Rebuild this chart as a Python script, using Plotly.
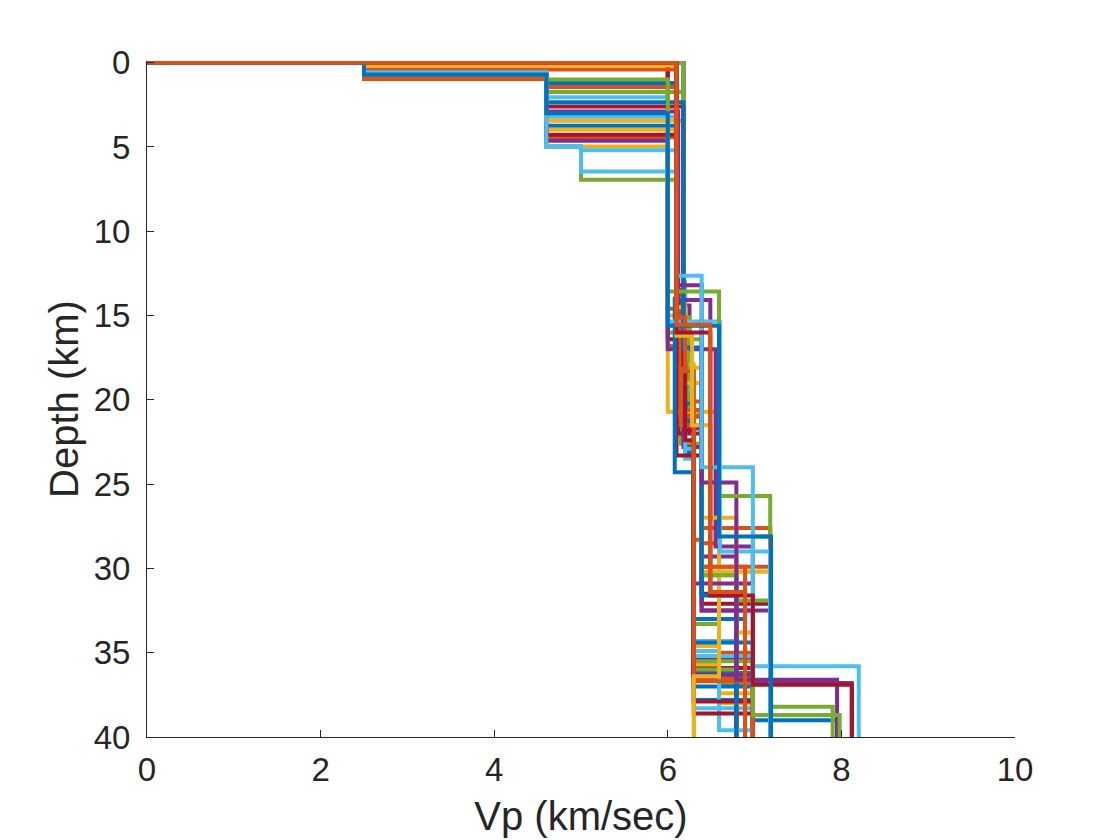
"""Perfiles Vp vs profundidad (escalones por capa), estilo MATLAB."""
import plotly.graph_objects as go

# Colores por defecto de MATLAB (se ciclan por perfil)
COLORS = ["#0072BD", "#D95319", "#EDB120", "#7E2F8E",
          "#77AC30", "#4DBEEE", "#A2142F"]

# Velocidad de cada capa (km/s), una lista por "ranura" de capa; 44 perfiles.
VP1 = [6.10, 6.10, 6.00, 6.18, 6.10, 6.00, 6.18, 6.10, 6.00, 6.10, 6.18,
       6.00, 6.18, 6.10, 2.50, 6.00, 2.50, 6.10, 6.18, 2.50, 6.00, 6.10,
       2.50, 2.50, 2.50, 2.50, 2.50, 2.50, 2.50, 2.50, 2.50, 2.50, 2.50,
       2.50, 2.50, 2.50, 2.50, 2.50, 6.10, 2.50, 2.50, 6.10, 2.50, 6.10]
VP2 = [6.15, 6.20, 6.12, 6.22, 6.15, 6.18, 6.12, 6.20, 6.15, 6.18, 6.25,
       6.15, 6.20, 6.18, 4.60, 6.12, 4.60, 6.18, 6.25, 4.60, 6.10, 6.18,
       4.60, 4.60, 4.60, 4.60, 4.60, 4.60, 4.60, 4.60, 4.60, 4.60, 4.60,
       4.60, 4.60, 4.60, 6.10, 6.10, 6.39, 4.60, 4.60, 6.49, 4.60, 6.49]
VP3 = [6.30, 6.39, 6.30, 6.30, 6.39, 6.30, 6.39, 6.30, 6.39, 6.39, 6.39,
       6.30, 6.30, 6.30, 6.10, 6.39, 6.00, 6.39, 6.30, 5.00, 6.39, 6.30,
       6.10, 6.10, 6.00, 5.00, 6.10, 6.10, 6.10, 6.10, 6.18, 6.12, 6.18,
       6.00, 6.18, 6.18, 6.20, 6.28, 6.79, 6.00, 5.00, 6.98, 6.00, 6.89]
VP4 = [6.98, 7.18, 6.59, 6.98, 6.79, 6.79, 7.18, 6.98, 6.59, 7.18, 6.79,
       6.59, 6.98, 6.98, 6.15, 7.18, 6.59, 7.18, 6.79, 6.10, 6.79, 6.89,
       6.18, 6.20, 6.55, 6.10, 6.20, 6.20, 6.08, 6.15, 6.20, 6.49, 6.39,
       6.60, 6.20, 6.39, 6.30, 6.49, 7.95, 6.59, 6.10, 8.12, 6.59, 6.89]
VP5 = [6.98, 7.18, 6.98, 6.98, 6.79, 6.79, 7.18, 6.98, 6.98, 7.18, 6.79,
       6.98, 6.98, 6.98, 6.30, 7.18, 6.30, 7.18, 6.79, 6.20, 6.79, 6.89,
       6.39, 6.30, 6.98, 6.22, 6.30, 6.30, 6.29, 6.39, 6.39, 6.39, 6.79,
       7.18, 6.30, 6.79, 6.98, 6.59, 7.95, 7.18, 6.39, 8.12, 7.19, 6.89]
VP6 = [6.98, 7.18, 6.98, 6.98, 6.79, 6.79, 7.18, 6.98, 6.98, 7.18, 6.79,
       6.98, 6.98, 6.98, 6.98, 7.18, 6.30, 7.18, 6.79, 6.30, 6.79, 6.89,
       6.30, 6.59, 6.29, 6.30, 6.59, 6.98, 6.98, 6.89, 6.79, 6.98, 7.19,
       7.18, 6.98, 6.79, 6.98, 6.30, 7.95, 6.98, 6.98, 8.12, 7.19, 6.89]
VP7 = [6.98, 7.18, 6.98, 6.98, 6.79, 6.79, 7.18, 6.98, 6.98, 7.18, 6.79,
       6.98, 6.98, 6.98, 6.98, 7.18, 6.30, 7.18, 6.79, 6.98, 6.79, 6.89,
       6.98, 6.98, 6.98, 6.98, 6.98, 6.98, 7.95, 6.89, 6.98, 8.12, 7.90,
       7.18, 6.98, 6.79, 6.98, 6.30, 7.95, 7.98, 8.20, 8.12, 7.19, 6.89]

# Profundidad de la base de cada capa (km); 45 = sin más cambios en el gráfico
Z1 = [14.2, 13.8, 15.0, 16.2, 14.8, 15.4, 13.5, 16.5, 14.6, 15.8, 14.4,
      16.0, 13.0, 15.2, 0.70, 16.8, 0.70, 14.1, 15.1, 0.57, 16.4, 15.9,
      0.70, 0.70, 0.70, 0.57, 0.57, 0.70, 0.70, 0.97, 0.70, 0.70, 0.70,
      0.57, 0.70, 0.70, 0.40, 0.16, 13.2, 0.70, 0.57, 16.0, 0.70, 15.55]
Z2 = [19.6, 20.1, 18.7, 21.3, 22.6, 19.2, 22.0, 23.1, 20.9, 18.1, 21.7,
      19.9, 23.5, 18.9, 3.74, 21.0, 4.97, 22.8, 20.4, 4.97, 23.3, 20.2,
      4.43, 3.98, 4.63, 4.97, 3.20, 4.27, 1.20, 1.44, 3.45, 2.90, 1.74,
      2.05, 2.60, 2.35, 15.1, 16.2, 24.9, 1.00, 4.97, 31.6, 3.00, 31.4]
Z3 = [36.2, 27.6, 34.9, 35.4, 30.4, 34.3, 32.1, 37.8, 28.5, 30.2, 29.3,
      33.3, 38.3, 35.9, 14.9, 29.9, 20.7, 32.5, 36.0, 5.20, 31.5, 33.0,
      16.3, 14.5, 17.0, 6.94, 15.7, 17.7, 14.0, 15.0, 15.3, 14.07, 16.4,
      15.35, 17.9, 16.9, 18.3, 21.5, 36.6, 13.57, 6.45, 36.9, 15.6, 45]
Z4 = [45, 45, 37.4, 45, 45, 45, 45, 45, 35.0, 45, 45,
      36.9, 45, 45, 21.2, 45, 35.7, 45, 45, 15.3, 45, 45,
      20.6, 17.9, 28.7, 16.4, 22.9, 22.4, 24.3, 21.5, 19.0, 15.5, 30.4,
      29.0, 21.8, 31.6, 36.7, 31.4, 45, 25.7, 12.64, 45, 28.1, 45]
Z5 = [45, 45, 45, 45, 45, 45, 45, 45, 45, 45, 45,
      45, 45, 45, 37.0, 45, 45, 45, 45, 19.4, 45, 45,
      28.3, 34.6, 30.9, 20.0, 34.9, 38.6, 34.4, 29.9, 27.0, 32.5, 31.9,
      45, 37.9, 45, 45, 36.4, 45, 28.1, 24.0, 45, 45, 45]
Z6 = [45, 45, 45, 45, 45, 45, 45, 45, 45, 45, 45,
      45, 45, 45, 45, 45, 45, 45, 45, 35.2, 45, 45,
      36.5, 38.0, 36.3, 35.5, 39.6, 45, 39.0, 45, 33.8, 36.8, 38.2,
      45, 45, 45, 45, 45, 45, 38.7, 35.8, 45, 45, 45]

X_TICKS = [0, 2, 4, 6, 8, 10]
Y_TICKS = [0, 5, 10, 15, 20, 25, 30, 35, 40]
BOTTOM = 45.0

AXIS_COLOR = "#262626"
FONT = "Liberation Sans, Arial, Helvetica, sans-serif"


def stairs(vps, bases):
    """Camino en escalera: arranca en (0, 0) y baja capa por capa."""
    xs, ys = [0.0], [0.0]
    top = 0.0
    for v, zb in zip(vps, bases):
        if zb <= top:
            continue
        xs += [v, v]
        ys += [top, zb]
        top = zb
    return xs, ys


fig = go.Figure()
slots_vp = [VP1, VP2, VP3, VP4, VP5, VP6, VP7]
slots_z = [Z1, Z2, Z3, Z4, Z5, Z6]
for i in range(len(VP1)):
    vps = [s[i] for s in slots_vp]
    bases = [s[i] for s in slots_z] + [BOTTOM]
    xs, ys = stairs(vps, bases)
    fig.add_trace(go.Scatter(
        x=xs, y=ys, mode="lines",
        line=dict(color=COLORS[i % len(COLORS)], width=4),
        hoverinfo="skip",
    ))

axis_common = dict(
    showline=True, linecolor=AXIS_COLOR, linewidth=1,
    ticks="inside", ticklen=7, tickwidth=1, tickcolor=AXIS_COLOR,
    showgrid=False, zeroline=False,
    tickfont=dict(size=33, color=AXIS_COLOR, family=FONT),
)
fig.update_xaxes(
    range=[0, 10], tickvals=X_TICKS, ticklabelstandoff=3,
    title=dict(text="Vp (km/sec)", font=dict(size=40, color=AXIS_COLOR, family=FONT),
               standoff=15),
    **axis_common,
)
fig.update_yaxes(
    range=[40, -0.1], tickvals=Y_TICKS, ticklabelstandoff=9,
    title=dict(text="Depth (km)", font=dict(size=40, color=AXIS_COLOR, family=FONT),
               standoff=2),
    **axis_common,
)
# la página añade ~8 px de margen al cuerpo: se compensa aquí
fig.update_layout(
    width=1120, height=840,
    margin=dict(l=139, r=113, t=53, b=111),
    plot_bgcolor="white", paper_bgcolor="white",
    showlegend=False,
    font=dict(family=FONT, color=AXIS_COLOR),
)

fig.write_html("out.html")
